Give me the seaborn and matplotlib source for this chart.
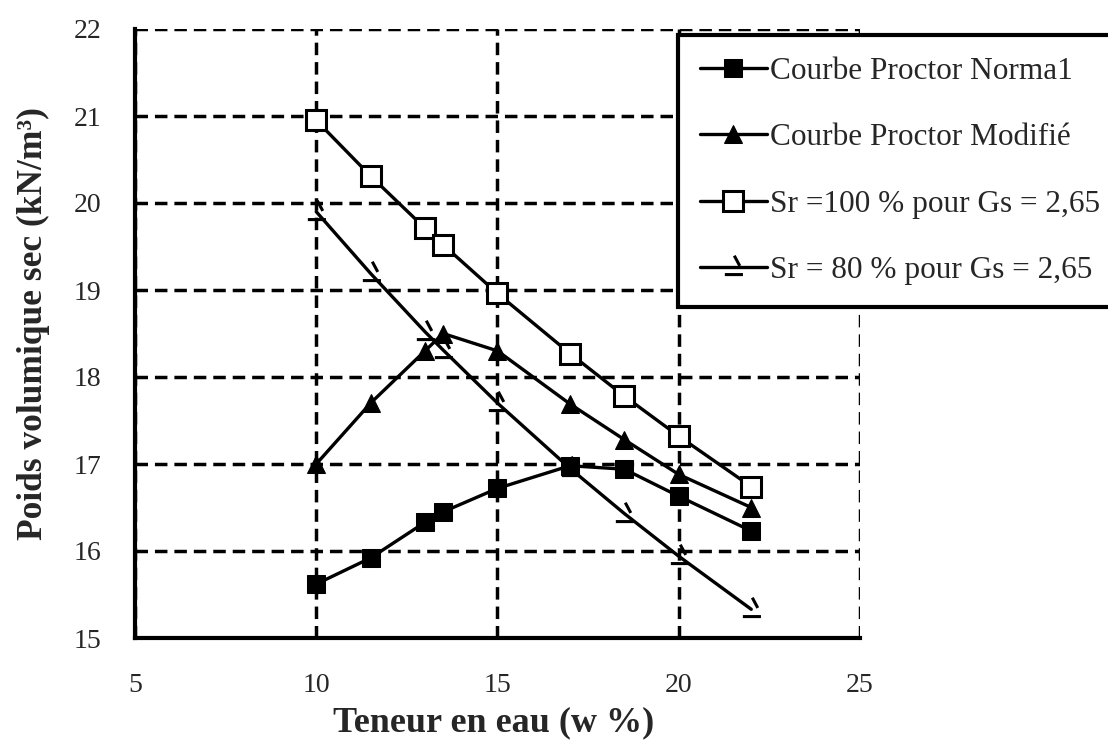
import numpy as np
import pandas as pd
import matplotlib
matplotlib.use("Agg")
import matplotlib.pyplot as plt
from matplotlib.path import Path
import seaborn as sns

# water content (%) of the measured points
w_points = [10, 11.5, 13, 13.5, 15, 17, 18.5, 20, 22]

# dry unit weight (kN/m3)
gd_normal = [15.62, 15.92, 16.33, 16.45, 16.72, 16.98, 16.94, 16.63, 16.23]
gd_modifie = [17.0, 17.7, 18.3, 18.5, 18.3, 17.69, 17.28, 16.88, 16.5]
gd_sr100 = [20.95, 20.31, 19.71, 19.52, 18.96, 18.27, 17.78, 17.32, 16.74]
gd_sr80 = [19.9, 19.19, 18.52, 18.31, 17.7, 16.95, 16.43, 15.94, 15.33]

labels = ["Courbe Proctor Norma1", "Courbe Proctor Modifié",
          "Sr =100 % pour Gs = 2,65", "Sr = 80 % pour Gs = 2,65"]

x_ticks = [5, 10, 15, 20, 25]
y_ticks = [15, 16, 17, 18, 19, 20, 21, 22]

df = pd.DataFrame({
    "w": w_points * 4,
    "gd": gd_normal + gd_modifie + gd_sr100 + gd_sr80,
    "courbe": sum([[lab] * len(w_points) for lab in labels], []),
})

sns.set_style("white")
plt.rcParams["font.family"] = ["Liberation Serif", "DejaVu Serif"]

# odd dash-and-tick glyph used for the Sr = 80 % curve
tick_marker = Path([(-0.55, -0.45), (0.6, -0.45), (0.05, 0.75), (0.4, 0.1)],
                   [Path.MOVETO, Path.LINETO, Path.MOVETO, Path.LINETO])

fig = plt.figure(figsize=(11.08, 7.45), dpi=100)
ax = fig.add_axes([135 / 1108, 1 - 638 / 745, 725 / 1108, 609 / 745])

styles = {
    labels[0]: dict(marker="s", markersize=13, mfc="black", mec="black"),
    labels[1]: dict(marker="^", markersize=13, mfc="black", mec="black"),
    labels[2]: dict(marker="s", markersize=14, mfc="white", mec="black", mew=2.2),
    labels[3]: dict(marker=tick_marker, markersize=17, mfc="none", mec="black", mew=2.2),
}

for lab in labels:
    sub = df[df["courbe"] == lab]
    sns.lineplot(data=sub, x="w", y="gd", ax=ax, color="black", linewidth=2.4,
                 label=lab, **styles[lab])

ax.set_xlim(5, 25)
ax.set_ylim(15, 22)
ax.set_xticks(x_ticks)
ax.set_yticks(y_ticks)
ax.tick_params(axis="x", labelsize=20, length=0, pad=25)
ax.tick_params(axis="y", labelsize=20, length=0, pad=24)
ax.grid(True, color="black", linestyle=(0, (3.6, 2.0)), linewidth=2.5)
ax.set_axisbelow(True)

for side in ["top", "right"]:
    ax.spines[side].set_visible(False)
for side in ["left", "bottom"]:
    ax.spines[side].set_color("black")
    ax.spines[side].set_linewidth(3)

ax.set_xlabel("Teneur en eau (w %)", fontsize=26, fontweight="bold")
ax.set_ylabel("Poids volumique sec (kN/m³)", fontsize=25.5, fontweight="bold")
ax.xaxis.set_label_coords(0.495, -0.113)
ax.yaxis.set_label_coords(-0.117, 0.517)

# legend frame runs past the right edge of the picture, as in the original
leg = ax.legend(loc="upper left",
                bbox_to_anchor=(678 / 1108, 0, (1120 - 678) / 1108, 1 - 35 / 745),
                bbox_transform=fig.transFigure, mode="expand", fontsize=22.5,
                frameon=True, fancybox=False, edgecolor="black", framealpha=1,
                labelspacing=1.2, handlelength=2.15, handletextpad=0.1,
                borderpad=0.69, borderaxespad=0)
leg.get_frame().set_linewidth(3)

fig.savefig("out.png", dpi=100)
